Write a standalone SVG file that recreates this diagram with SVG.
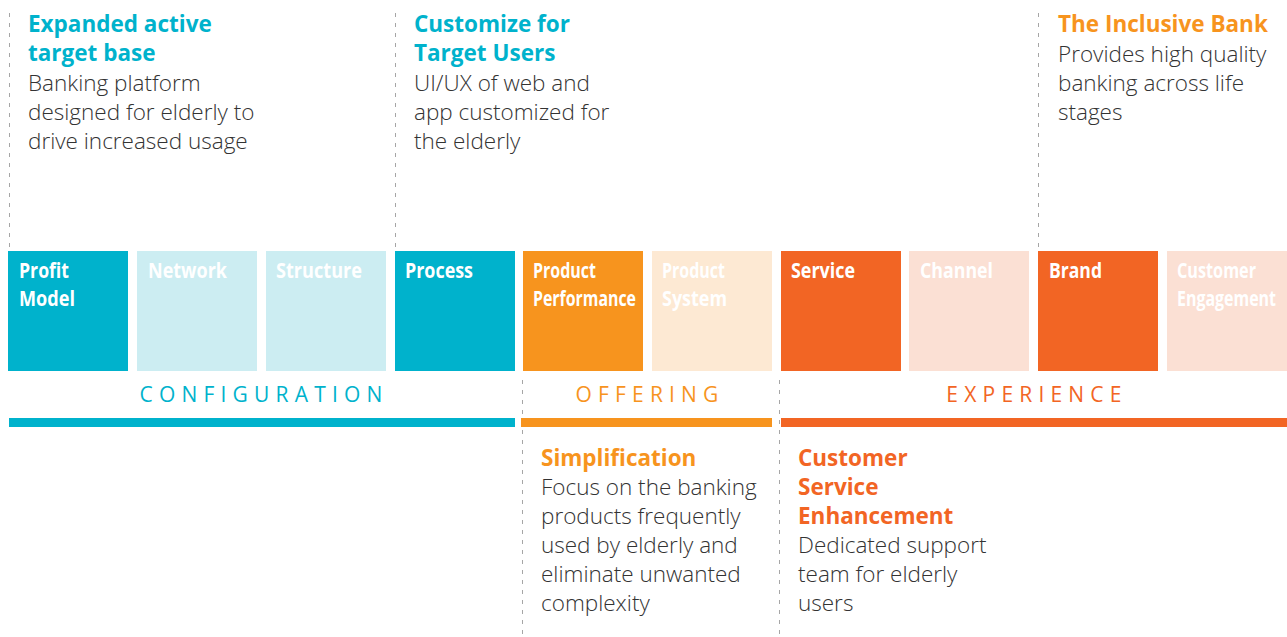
<svg xmlns="http://www.w3.org/2000/svg" width="1287" height="637" viewBox="0 0 1287 637">
<style>
.bg{fill:#ffffff}
.dash{stroke:#a6a6a6;stroke-width:1;stroke-dasharray:4 6;fill:none}
.head{font-family:"Open Sans","Liberation Sans",sans-serif;font-weight:700;font-size:22.5px}
.body{font-family:"Open Sans","Liberation Sans",sans-serif;font-weight:300;font-size:22.5px;fill:#333333}
.lbl{font-family:"Open Sans","Liberation Sans",sans-serif;font-weight:700;font-size:21px;fill:#ffffff}
.cat{font-family:"Open Sans","Liberation Sans",sans-serif;font-weight:500;font-size:21px;letter-spacing:6.2px;text-anchor:middle}
.cyan{fill:#00b2cc}
.cyanL{fill:#ccedf2}
.org{fill:#f7941e}
.orgL{fill:#fde9d3}
.red{fill:#f26524}
.redL{fill:#fbe0d4}
</style>
<rect class="bg" x="0" y="0" width="1287" height="637"/>
<g id="connectors">
<line class="dash" x1="9.5" y1="13" x2="9.5" y2="250"/>
<line class="dash" x1="395.5" y1="13" x2="395.5" y2="250"/>
<line class="dash" x1="1038.5" y1="13" x2="1038.5" y2="250"/>
<line class="dash" x1="522.5" y1="380" x2="522.5" y2="637"/>
<line class="dash" x1="779.5" y1="380" x2="779.5" y2="637"/>
</g>
<g id="note-expanded">
<text class="head cyan" x="28" y="32">Expanded active</text>
<text class="head cyan" x="28" y="61">target base</text>
<text class="body" x="28" y="90.5">Banking platform</text>
<text class="body" x="28" y="119.5">designed for elderly to</text>
<text class="body" x="28" y="148.5">drive increased usage</text>
</g>
<g id="note-customize">
<text class="head cyan" x="414" y="32">Customize for</text>
<text class="head cyan" x="414" y="61">Target Users</text>
<text class="body" x="414" y="90.5">UI/UX of web and</text>
<text class="body" x="414" y="119.5">app customized for</text>
<text class="body" x="414" y="148.5">the elderly</text>
</g>
<g id="note-inclusive">
<text class="head org" x="1058" y="32">The Inclusive Bank</text>
<text class="body" x="1058" y="61.5">Provides high quality</text>
<text class="body" x="1058" y="90.5">banking across life</text>
<text class="body" x="1058" y="119.5">stages</text>
</g>
<g id="box-profit-model">
<rect class="cyan" x="8" y="251" width="120" height="120"/>
<text class="lbl" x="19" y="278" textLength="50" lengthAdjust="spacingAndGlyphs">Profit</text>
<text class="lbl" x="19" y="306" textLength="56" lengthAdjust="spacingAndGlyphs">Model</text>
</g>
<g id="box-network">
<rect class="cyanL" x="137" y="251" width="120" height="120"/>
<text class="lbl" x="148" y="278" textLength="79" lengthAdjust="spacingAndGlyphs">Network</text>
</g>
<g id="box-structure">
<rect class="cyanL" x="266" y="251" width="120" height="120"/>
<text class="lbl" x="276" y="278" textLength="86" lengthAdjust="spacingAndGlyphs">Structure</text>
</g>
<g id="box-process">
<rect class="cyan" x="395" y="251" width="120" height="120"/>
<text class="lbl" x="405" y="278" textLength="68" lengthAdjust="spacingAndGlyphs">Process</text>
</g>
<g id="box-product-performance">
<rect class="org" x="523" y="251" width="120" height="120"/>
<text class="lbl" x="533" y="278" textLength="63" lengthAdjust="spacingAndGlyphs">Product</text>
<text class="lbl" x="533" y="306" textLength="103" lengthAdjust="spacingAndGlyphs">Performance</text>
</g>
<g id="box-product-system">
<rect class="orgL" x="652" y="251" width="120" height="120"/>
<text class="lbl" x="662" y="278" textLength="63" lengthAdjust="spacingAndGlyphs">Product</text>
<text class="lbl" x="662" y="306" textLength="65" lengthAdjust="spacingAndGlyphs">System</text>
</g>
<g id="box-service">
<rect class="red" x="781" y="251" width="120" height="120"/>
<text class="lbl" x="791" y="278" textLength="64" lengthAdjust="spacingAndGlyphs">Service</text>
</g>
<g id="box-channel">
<rect class="redL" x="909" y="251" width="120" height="120"/>
<text class="lbl" x="920" y="278" textLength="73" lengthAdjust="spacingAndGlyphs">Channel</text>
</g>
<g id="box-brand">
<rect class="red" x="1038" y="251" width="120" height="120"/>
<text class="lbl" x="1049" y="278" textLength="53" lengthAdjust="spacingAndGlyphs">Brand</text>
</g>
<g id="box-customer-engagement">
<rect class="redL" x="1167" y="251" width="120" height="120"/>
<text class="lbl" x="1177" y="278" textLength="79" lengthAdjust="spacingAndGlyphs">Customer</text>
<text class="lbl" x="1177" y="306" textLength="99" lengthAdjust="spacingAndGlyphs">Engagement</text>
</g>
<g id="group-configuration">
<text class="cat cyan" x="264" y="402">CONFIGURATION</text>
<rect class="cyan" x="9" y="418" width="506" height="9"/>
</g>
<g id="group-offering">
<text class="cat org" x="650" y="402">OFFERING</text>
<rect class="org" x="521" y="418" width="251" height="9"/>
</g>
<g id="group-experience">
<text class="cat red" x="1037" y="402">EXPERIENCE</text>
<rect class="red" x="781" y="418" width="506" height="9"/>
</g>
<g id="note-simplification">
<text class="head org" x="541" y="466">Simplification</text>
<text class="body" x="541" y="495">Focus on the banking</text>
<text class="body" x="541" y="524">products frequently</text>
<text class="body" x="541" y="553">used by elderly and</text>
<text class="body" x="541" y="582">eliminate unwanted</text>
<text class="body" x="541" y="611">complexity</text>
</g>
<g id="note-customer-service">
<text class="head red" x="798" y="466">Customer</text>
<text class="head red" x="798" y="495">Service</text>
<text class="head red" x="798" y="524">Enhancement</text>
<text class="body" x="798" y="553">Dedicated support</text>
<text class="body" x="798" y="582">team for elderly</text>
<text class="body" x="798" y="611">users</text>
</g>
</svg>
